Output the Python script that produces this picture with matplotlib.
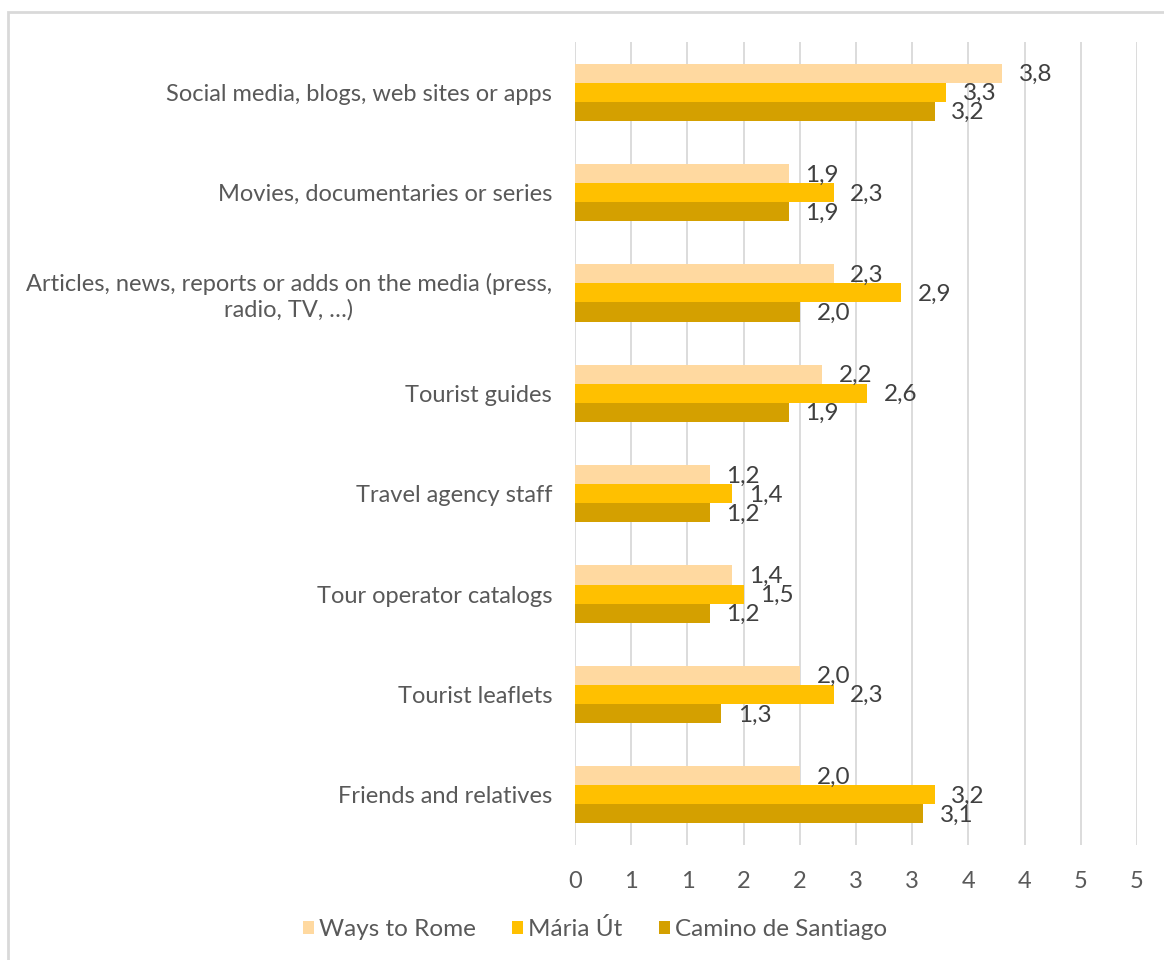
import numpy as np
import matplotlib.pyplot as plt
from matplotlib.patches import Patch, Rectangle

plt.rcParams['font.family'] = ['Lato', 'DejaVu Sans']

# Categories, top to bottom
categories = [
    'Social media, blogs, web sites or apps',
    'Movies, documentaries or series',
    'Articles, news, reports or adds on the media (press,\nradio, TV, …)',
    'Tourist guides',
    'Travel agency staff',
    'Tour operator catalogs',
    'Tourist leaflets',
    'Friends and relatives',
]

series_names = ['Ways to Rome', 'Mária Út', 'Camino de Santiago']
ways_to_rome = [3.8, 1.9, 2.3, 2.2, 1.2, 1.4, 2.0, 2.0]
maria_ut = [3.3, 2.3, 2.9, 2.6, 1.4, 1.5, 2.3, 3.2]
camino = [3.2, 1.9, 2.0, 1.9, 1.2, 1.2, 1.3, 3.1]

colors = ['#FFD9A0', '#FFC000', '#D4A000']
x_ticks = np.arange(0, 5.01, 0.5)

fig = plt.figure(figsize=(11.64, 9.6), dpi=100)
ax = fig.add_axes([575 / 1164, 1 - 845 / 960, (1137 - 575) / 1164, (845 - 42) / 960])

# light border around the chart area
fig.patches.append(Rectangle((8 / 1164, -0.05), 1.2, 1 - 12 / 960 + 0.05,
                             transform=fig.transFigure, fill=False,
                             edgecolor='#D9D9D9', linewidth=2))

y = np.arange(len(categories))
h = 0.19
for k, vals in enumerate([ways_to_rome, maria_ut, camino]):
    pos = y + (k - 1) * h
    ax.barh(pos, vals, height=h, color=colors[k], label=series_names[k], zorder=3)
    for p, v in zip(pos, vals):
        ax.annotate(f'{v:.1f}'.replace('.', ','), (v, p), xytext=(12, -1),
                    textcoords='offset points', ha='left', va='center',
                    fontsize=17.5, color='#404040', zorder=4)

ax.set_xlim(0, 5)
ax.set_ylim(len(categories) - 0.5, -0.5)
ax.set_xticks(x_ticks)
ax.set_xticklabels([str(int(np.floor(t + 0.5))) for t in x_ticks])
ax.set_yticks(y)
ax.set_yticklabels(categories)
for lab in ax.get_yticklabels():
    lab.set_multialignment('center')

ax.grid(axis='x', color='#D9D9D9', linewidth=1.3, zorder=0)
for s in ax.spines.values():
    s.set_visible(False)
ax.tick_params(axis='both', length=0, labelsize=17, labelcolor='#595959')
ax.tick_params(axis='x', pad=19)
ax.tick_params(axis='y', pad=16.5)

handles = [Patch(facecolor=c, label=n) for c, n in zip(colors, series_names)]
fig.legend(handles=handles, loc='center', bbox_to_anchor=(595 / 1164, 1 - 929 / 960),
           ncol=3, frameon=False, fontsize=17.5, labelcolor='#595959',
           handlelength=0.45, handleheight=0.45, handletextpad=0.2, columnspacing=1.5)

fig.savefig('out.png', dpi=100)
